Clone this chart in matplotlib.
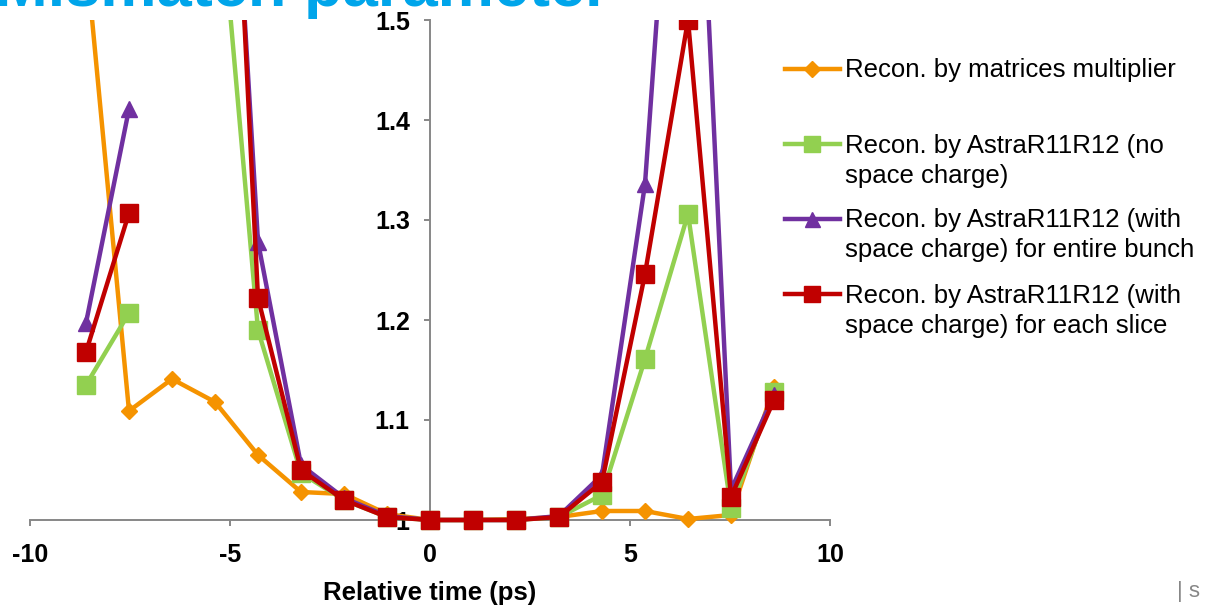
import numpy as np
import matplotlib.pyplot as plt
from matplotlib.lines import Line2D

plt.rcParams['font.family'] = ['Liberation Sans', 'DejaVu Sans']

nan = np.nan
t_ps = [-8.6, -7.525, -6.45, -5.375, -4.3, -3.225, -2.15, -1.075, 0.0,
        1.075, 2.15, 3.225, 4.3, 5.375, 6.45, 7.525, 8.6]
matrices = [1.565, 1.109, 1.141, 1.118, 1.065, 1.028, 1.026, 1.006, 1.000,
            1.000, 1.001, 1.003, 1.009, 1.009, 1.001, 1.005, 1.133]
astra_nosc = [1.135, 1.207, nan, 1.679, 1.190, 1.047, 1.020, 1.003, 1.000,
              1.000, 1.000, 1.003, 1.025, 1.161, 1.306, 1.012, 1.128]
astra_sc_bunch = [1.197, 1.411, nan, 2.0, 1.278, 1.055, 1.022, 1.004, 1.000,
                  1.000, 1.000, 1.004, 1.045, 1.336, 1.94, 1.030, 1.125]
astra_sc_slice = [1.168, 1.307, nan, 2.095, 1.222, 1.050, 1.020, 1.003, 1.000,
                  1.000, 1.000, 1.003, 1.038, 1.246, 1.500, 1.023, 1.120]

labels = ['Recon. by matrices multiplier',
          'Recon. by AstraR11R12 (no\nspace charge)',
          'Recon. by AstraR11R12 (with\nspace charge) for entire bunch',
          'Recon. by AstraR11R12 (with\nspace charge) for each slice']
colors = ['#F59300', '#92D050', '#7030A0', '#C00000']
markers = ['D', 's', '^', 's']
msizes = [8.5, 13.5, 12, 13.5]
series = [matrices, astra_nosc, astra_sc_bunch, astra_sc_slice]

W, H = 1209, 606
fig = plt.figure(figsize=(W / 100, H / 100), dpi=100)
ax = fig.add_axes([30 / W, 1 - 540 / H, 800 / W, 520 / H])

for y, c, m, ms in zip(series, colors, markers, msizes):
    ax.plot(t_ps, y, color=c, lw=3.2, marker=m, ms=ms, mec=c, mfc=c)

ax.set_xlim(-10, 10)
ax.set_ylim(0.98, 1.5)
grey = '#878787'
for s in ['top', 'right']:
    ax.spines[s].set_visible(False)
ax.spines['left'].set_position(('data', 0))
ax.spines['left'].set_bounds(1.0, 1.5)
ax.spines['bottom'].set_position(('data', 1.0))
for s in ['left', 'bottom']:
    ax.spines[s].set_color(grey)
    ax.spines[s].set_linewidth(1.4)
    ax.spines[s].set_zorder(1)

yt = [1.0, 1.1, 1.2, 1.3, 1.4, 1.5]
ax.set_yticks(yt)
ax.set_yticklabels(['1', '1.1', '1.2', '1.3', '1.4', '1.5'])
ax.set_xticks([-10, -5, 0, 5, 10])
ax.set_xticklabels(['-10', '-5', '0', '5', '10'])
ax.tick_params(axis='both', direction='out', length=4.5, width=1.4, color=grey,
               labelsize=18)
ax.tick_params(axis='y', pad=10)
ax.tick_params(axis='x', pad=12)
for lab in ax.get_xticklabels() + ax.get_yticklabels():
    lab.set_fontweight('bold')
ax.set_xlabel('Relative time (ps)', fontsize=18.5, fontweight='bold', labelpad=10)

# legend drawn by hand so handles line up with the first text line
legend_y = [69, 144, 219, 294]
for yp, lab, c, m, ms in zip(legend_y, labels, colors, markers, msizes):
    yf = 1 - yp / H
    fig.add_artist(Line2D([785 / W, 812 / W, 840 / W], [yf, yf, yf], color=c, lw=3.2,
                          marker=m, ms=ms * 0.9, mec=c, mfc=c, markevery=[1]))
    for i, line in enumerate(lab.split('\n')):
        fig.text(845 / W, 1 - (yp + 30 * i + 8.5) / H, line, fontsize=18.5,
                 va='baseline', ha='left', color='black')

fig.text(610 / W, 1 - 6 / H, 'Mismatch parameter', fontsize=45.5, fontweight='bold',
         color='#00A5EA', ha='right', va='baseline')
fig.text(1177 / W, 1 - 592 / H, '| s', fontsize=16, color=grey, ha='left', va='center')

fig.savefig('out.png', dpi=100)
